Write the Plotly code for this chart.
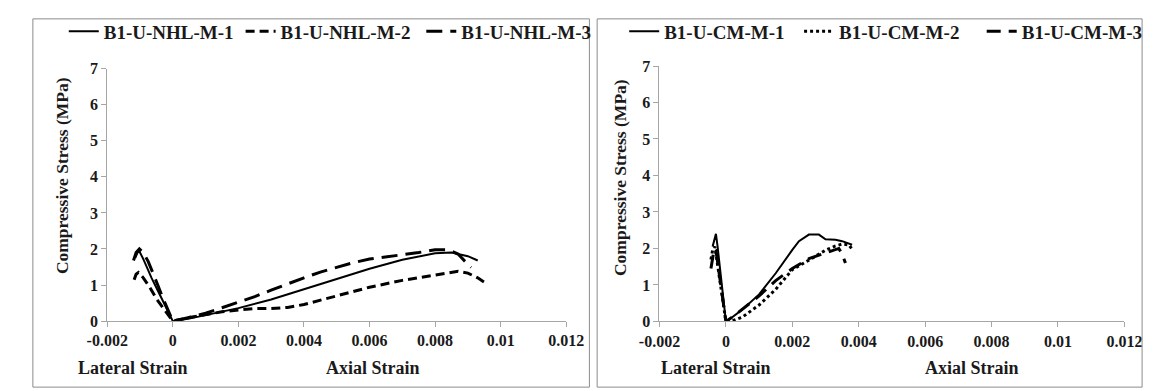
import plotly.graph_objects as go

W, H = 1155, 391

# ---------------- data (left panel: NHL) ----------------
nhl1_lat_strain = [-0.00115, -0.00104, -0.0009, -0.00065, -0.0004, -0.00015, 0]
nhl1_lat_stress = [1.75, 1.97, 1.72, 1.2, 0.74, 0.26, 0]
nhl1_ax_strain = [0, 0.0005, 0.001, 0.002, 0.003, 0.004, 0.005, 0.006, 0.007, 0.008, 0.0085, 0.009, 0.0093]
nhl1_ax_stress = [0, 0.07, 0.17, 0.36, 0.6, 0.88, 1.17, 1.45, 1.7, 1.88, 1.9, 1.8, 1.68]

nhl2_lat_strain = [-0.00118, -0.00112, -0.00105, -0.0009, -0.0007, -0.0005, -0.0003, -0.0001, 0]
nhl2_lat_stress = [1.15, 1.3, 1.35, 1.2, 0.93, 0.62, 0.37, 0.12, 0]
nhl2_ax_strain = [0, 0.0005, 0.001, 0.0015, 0.002, 0.0025, 0.003, 0.0035, 0.004, 0.005, 0.006, 0.007, 0.008, 0.0087, 0.009, 0.0093, 0.0096]
nhl2_ax_stress = [0, 0.1, 0.19, 0.26, 0.31, 0.35, 0.35, 0.38, 0.46, 0.7, 0.94, 1.13, 1.28, 1.38, 1.33, 1.2, 1.02]

nhl3_lat_strain = [-0.0012, -0.00112, -0.00102, -0.0009, -0.00075, -0.0006, -0.00045, -0.0003, -0.00015, 0]
nhl3_lat_stress = [1.68, 1.9, 2.0, 1.9, 1.65, 1.33, 0.98, 0.63, 0.3, 0]
nhl3_ax_strain = [0, 0.0005, 0.001, 0.0015, 0.002, 0.0025, 0.003, 0.0035, 0.004, 0.0045, 0.005, 0.0055,
                  0.006, 0.0065, 0.007, 0.0075, 0.008, 0.0084, 0.0087, 0.0089, 0.0091]
nhl3_ax_stress = [0, 0.1, 0.22, 0.37, 0.52, 0.68, 0.86, 1.04, 1.2, 1.36, 1.5, 1.62,
                  1.72, 1.79, 1.84, 1.9, 1.98, 1.98, 1.86, 1.67, 1.49]

# ---------------- data (right panel: CM) ----------------
cm1_lat_strain = [-0.0004, -0.00034, -0.0003, -0.00025, -0.00018, -0.0001, -0.00004, 0]
cm1_lat_stress = [2.05, 2.3, 2.4, 2.05, 1.46, 0.8, 0.32, 0]
cm1_ax_strain = [0, 0.0002, 0.0005, 0.001, 0.0015, 0.002, 0.0022, 0.0025, 0.0028, 0.003, 0.0033, 0.0035, 0.0037, 0.0038]
cm1_ax_stress = [0, 0.12, 0.33, 0.74, 1.32, 1.96, 2.2, 2.38, 2.38, 2.25, 2.24, 2.2, 2.13, 2.1]

cm2_lat_strain = [-0.00045, -0.0004, -0.00033, -0.0002, -0.0001, 0]
cm2_lat_stress = [1.7, 1.95, 2.05, 1.3, 0.62, 0]
cm2_ax_strain = [0, 0.0002, 0.0005, 0.001, 0.0015, 0.002, 0.0025, 0.003, 0.0033, 0.0035, 0.0037, 0.0038]
cm2_ax_stress = [0, 0.02, 0.12, 0.45, 0.88, 1.42, 1.68, 1.95, 2.07, 2.12, 2.1, 1.98]

cm3_lat_strain = [-0.00045, -0.0004, -0.00035, -0.0003, -0.0002, -0.0001, 0]
cm3_lat_stress = [1.45, 1.75, 2.0, 1.95, 1.3, 0.65, 0]
cm3_ax_strain = [0, 0.0002, 0.0005, 0.001, 0.0015, 0.002, 0.0025, 0.003, 0.0033, 0.0034, 0.0035, 0.0036]
cm3_ax_stress = [0, 0.12, 0.33, 0.7, 1.12, 1.45, 1.72, 1.87, 1.97, 2.0, 1.85, 1.6]

names_left = ["B1-U-NHL-M-1", "B1-U-NHL-M-2", "B1-U-NHL-M-3"]
names_right = ["B1-U-CM-M-1", "B1-U-CM-M-2", "B1-U-CM-M-3"]

x_tickvals = [-0.002, 0, 0.002, 0.004, 0.006, 0.008, 0.01, 0.012]
x_ticklabels = ["-0.002", "0", "0.002", "0.004", "0.006", "0.008", "0.01", "0.012"]
y_tickvals = [0, 1, 2, 3, 4, 5, 6, 7]
y_ticklabels = ["0", "1", "2", "3", "4", "5", "6", "7"]

FONT = "Liberation Serif"
INK = "#1a1a1a"


def branch(lat_s, lat_y, ax_s, ax_y):
    # lateral branch: tail -> peak -> origin, then axial branch: origin -> end
    xs = list(lat_s) + list(ax_s[1:])
    ys = list(lat_y) + list(ax_y[1:])
    return xs, ys


fig = go.Figure()

left_series = [
    (names_left[0], nhl1_lat_strain, nhl1_lat_stress, nhl1_ax_strain, nhl1_ax_stress, "solid", 2),
    (names_left[1], nhl2_lat_strain, nhl2_lat_stress, nhl2_ax_strain, nhl2_ax_stress, "9px,5px", 3),
    (names_left[2], nhl3_lat_strain, nhl3_lat_stress, nhl3_ax_strain, nhl3_ax_stress, "16px,8px", 3),
]
right_series = [
    (names_right[0], cm1_lat_strain, cm1_lat_stress, cm1_ax_strain, cm1_ax_stress, "solid", 2),
    (names_right[1], cm2_lat_strain, cm2_lat_stress, cm2_ax_strain, cm2_ax_stress, "3px,3px", 3),
    (names_right[2], cm3_lat_strain, cm3_lat_stress, cm3_ax_strain, cm3_ax_stress, "14px,8px", 3),
]

legend_ids = ["legend", "legend2", "legend3", "legend4", "legend5", "legend6"]
k = 0
for series, xa, ya in [(left_series, "x", "y"), (right_series, "x2", "y2")]:
    for name, ls, ly, axs, axy, dash, w in series:
        xs, ys = branch(ls, ly, axs, axy)
        fig.add_trace(go.Scatter(
            x=xs, y=ys, mode="lines", name="<b>" + name + "</b>",
            line=dict(color="black", width=w, dash=dash),
            xaxis=xa, yaxis=ya, legend=legend_ids[k], showlegend=True,
        ))
        k += 1


def px_x(p):
    return p / W


def px_y(p):
    return 1 - p / H


axis_common = dict(
    showgrid=False, zeroline=False, showline=True, linecolor="#a6a6a6", linewidth=1,
    ticks="outside", ticklen=5, tickcolor="#a6a6a6", tickwidth=1,
    tickfont=dict(family=FONT, size=16, color=INK),
)
xt = ["<b>" + t + "</b>" for t in x_ticklabels]
yt = ["<b>" + t + "</b>" for t in y_ticklabels]

layout = dict(
    width=W, height=H,
    margin=dict(l=0, r=0, t=0, b=0),
    paper_bgcolor="white", plot_bgcolor="white",
    showlegend=True,
    font=dict(family=FONT, size=16, color=INK),
    xaxis=dict(domain=[px_x(81), px_x(556)], range=[-0.002, 0.012], tickvals=x_tickvals,
               ticktext=xt, anchor="y", **axis_common),
    yaxis=dict(domain=[px_y(319), px_y(55)], range=[0, 7], tickvals=y_tickvals, ticktext=yt,
               anchor="x", **axis_common),
    xaxis2=dict(domain=[px_x(652.5), px_x(1133.7)], range=[-0.002, 0.012], tickvals=x_tickvals,
                ticktext=xt, anchor="y2", **axis_common),
    yaxis2=dict(domain=[px_y(319.3), px_y(52.3)], range=[0, 7], tickvals=y_tickvals, ticktext=yt,
                anchor="x2", **axis_common),
)

legend_left_px = [36, 219, 406, 616, 797, 986]
for lid, lx in zip(legend_ids, legend_left_px):
    layout[lid] = dict(
        x=px_x(lx), y=px_y(16), xanchor="left", yanchor="middle",
        orientation="h", bgcolor="rgba(0,0,0,0)", borderwidth=0,
        font=dict(family=FONT, size=19, color=INK),
    )

fig.update_layout(**layout)

for x0, x1 in [(4, 580), (588, 1152)]:
    fig.add_shape(type="rect", xref="paper", yref="paper",
                  x0=px_x(x0), x1=px_x(x1), y0=px_y(388), y1=px_y(3),
                  line=dict(color="#8c8c8c", width=1), fillcolor="rgba(0,0,0,0)")

text_font = dict(family=FONT, size=18, color=INK)
for txt, cx in [("Lateral Strain", 107.5), ("Axial Strain", 356.5),
                ("Lateral Strain", 711), ("Axial Strain", 976)]:
    fig.add_annotation(text="<b>" + txt + "</b>", x=px_x(cx), y=px_y(368), xref="paper", yref="paper",
                       showarrow=False, xanchor="center", yanchor="middle", font=text_font)
title_font = dict(family=FONT, size=17.5, color=INK)
for cx, cy in [(33.5, 167), (611, 169)]:
    fig.add_annotation(text="<b>Compressive Stress (MPa)</b>", x=px_x(cx), y=px_y(cy),
                       xref="paper", yref="paper", showarrow=False, textangle=-90,
                       xanchor="center", yanchor="middle", font=title_font)

fig.write_html("out.html")
